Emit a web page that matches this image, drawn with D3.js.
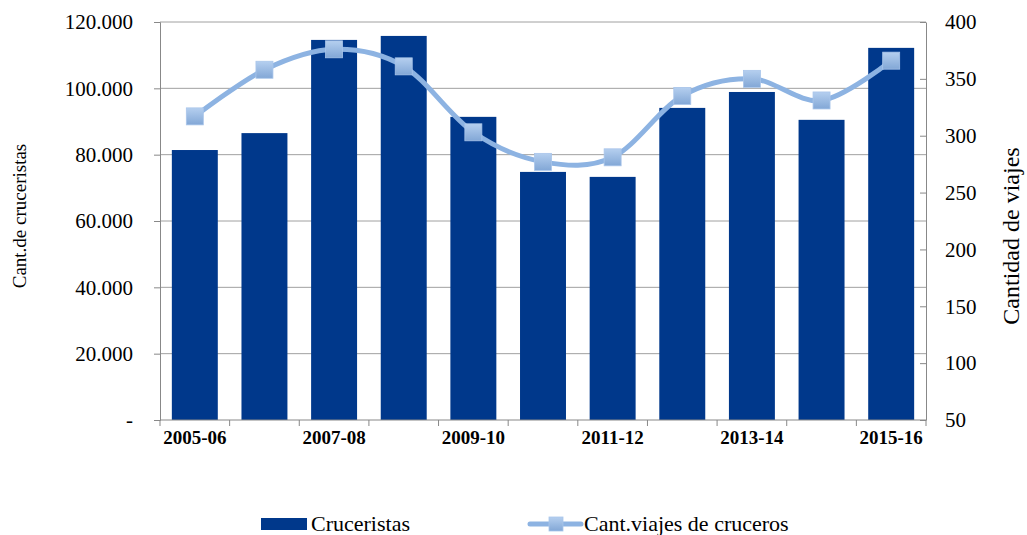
<!DOCTYPE html>
<html>
<head>
<meta charset="utf-8">
<script src="https://cdn.jsdelivr.net/npm/d3@7"></script>
<style>
  body { margin: 0; background: #fff; }
  svg text { font-family: "Liberation Serif", "Times New Roman", serif; fill: #000; }
</style>
</head>
<body>
<svg id="chart" width="1027" height="535"></svg>
<script>
// data
var periods = ["2005-06", "2006-07", "2007-08", "2008-09", "2009-10", "2010-11",
               "2011-12", "2012-13", "2013-14", "2014-15", "2015-16"];
var cruceristas = [81400, 86500, 114600, 115800, 91400, 74800, 73300, 94100, 98900, 90500, 112200];
var viajes = [317, 358, 376, 361, 303, 277, 281, 335, 350, 331, 366];
var leftTicks = [0, 20000, 40000, 60000, 80000, 100000, 120000];
var rightTicks = [50, 100, 150, 200, 250, 300, 350, 400];

var svg = d3.select("#chart");
var plotL = 160, plotR = 926, plotT = 22, plotB = 420;
var serif = '"Liberation Serif", "Times New Roman", serif';

var x = d3.scaleBand().domain(periods).range([plotL, plotR]).paddingInner(0.34).paddingOuter(0.17);
var yL = d3.scaleLinear().domain([0, 120000]).range([plotB, plotT]);
var yR = d3.scaleLinear().domain([50, 400]).range([plotB, plotT]);

var fmt = function (d) {
    if (d == 0) return "-";
    return d3.format(",")(d).replace(/,/g, ".");
};

// gridlines
svg.append("g")
    .selectAll("line")
    .data(leftTicks.slice(1))
    .join("line")
    .attr("x1", plotL).attr("x2", plotR)
    .attr("y1", d => yL(d)).attr("y2", d => yL(d))
    .attr("stroke", "#a0a0a0").attr("stroke-width", 1);

// bars
svg.append("g")
    .selectAll("rect")
    .data(cruceristas)
    .join("rect")
    .attr("x", (d, i) => x(periods[i]))
    .attr("width", x.bandwidth())
    .attr("y", d => yL(d))
    .attr("height", d => plotB - yL(d))
    .attr("fill", "#00388b");

// left axis
var axL = svg.append("g").attr("transform", "translate(" + plotL + ",0)")
    .call(d3.axisLeft(yL).tickValues(leftTicks).tickFormat(fmt).tickSize(6).tickPadding(21));

// right axis
var axR = svg.append("g").attr("transform", "translate(" + plotR + ",0)")
    .call(d3.axisRight(yR).tickValues(rightTicks).tickSizeInner(-6).tickSizeOuter(0).tickPadding(19));

[axL, axR].forEach(ax => {
    ax.attr("font-family", null).attr("font-size", null);
    ax.selectAll("text").style("font-family", serif).style("font-size", "21px");
});

// bottom axis: ticks at band boundaries, label every other category
var axB = svg.append("g").attr("transform", "translate(0," + plotB + ")");
axB.append("line").attr("x1", plotL).attr("x2", plotR).attr("y1", 0).attr("y2", 0);
var step = x.step();
axB.selectAll(".tk")
    .data(d3.range(periods.length + 1))
    .join("line")
    .attr("class", "tk")
    .attr("x1", i => plotL + i * step).attr("x2", i => plotL + i * step)
    .attr("y1", 0).attr("y2", 6);
axB.selectAll("line").attr("stroke", "#888");
axB.selectAll("text")
    .data(periods.filter((d, i) => i % 2 == 0))
    .join("text")
    .attr("x", d => x(d) + x.bandwidth() / 2)
    .attr("y", 24)
    .attr("text-anchor", "middle")
    .style("font-size", "19px")
    .style("font-weight", "bold")
    .text(d => d);

svg.selectAll(".domain, .tick line").attr("stroke", "#888");

// gradient for markers
var defs = svg.append("defs");
var grad = defs.append("linearGradient").attr("id", "mk").attr("x1", 0).attr("y1", 0).attr("x2", 0).attr("y2", 1);
grad.append("stop").attr("offset", "0%").attr("stop-color", "#b5cfef");
grad.append("stop").attr("offset", "100%").attr("stop-color", "#82a7d6");

// smoothed line
var line = d3.line()
    .x((d, i) => x(periods[i]) + x.bandwidth() / 2)
    .y(d => yR(d))
    .curve(d3.curveCatmullRom.alpha(0));
svg.append("path")
    .datum(viajes)
    .attr("d", line)
    .attr("fill", "none")
    .attr("stroke", "#8db3e2")
    .attr("stroke-width", 5)
    .attr("stroke-linecap", "round");

var ms = 17;
svg.append("g")
    .selectAll("rect")
    .data(viajes)
    .join("rect")
    .attr("x", (d, i) => x(periods[i]) + x.bandwidth() / 2 - ms / 2)
    .attr("y", d => yR(d) - ms / 2)
    .attr("width", ms).attr("height", ms)
    .attr("fill", "url(#mk)")
    .attr("stroke", "#a9c5ea").attr("stroke-width", 0.8);

// axis titles
svg.append("text")
    .attr("transform", "translate(26,216) rotate(-90)")
    .attr("text-anchor", "middle")
    .style("font-size", "19px")
    .text("Cant.de cruceristas");
svg.append("text")
    .attr("transform", "translate(1019,236) rotate(-90)")
    .attr("text-anchor", "middle")
    .style("font-size", "24px")
    .text("Cantidad de viajes");

// legend
var lg = svg.append("g");
lg.append("rect").attr("x", 261).attr("y", 518).attr("width", 46).attr("height", 12).attr("fill", "#00388b");
lg.append("text").attr("x", 311).attr("y", 531).style("font-size", "22px").text("Cruceristas");
lg.append("line").attr("x1", 530).attr("x2", 581).attr("y1", 524).attr("y2", 524)
    .attr("stroke", "#8db3e2").attr("stroke-width", 5).attr("stroke-linecap", "round");
lg.append("rect").attr("x", 549).attr("y", 517).attr("width", 14).attr("height", 14)
    .attr("fill", "url(#mk)").attr("stroke", "#a9c5ea").attr("stroke-width", 0.8);
lg.append("text").attr("x", 584).attr("y", 531).style("font-size", "22px").text("Cant.viajes de cruceros");
</script>
</body>
</html>
